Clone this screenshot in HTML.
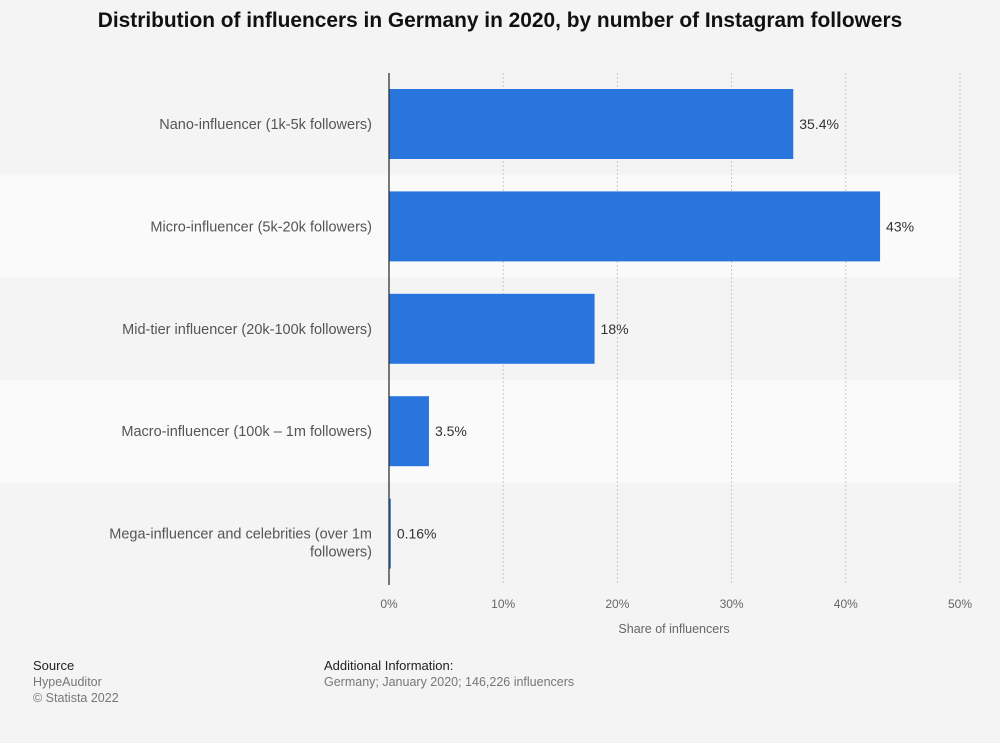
<!DOCTYPE html>
<html><head><meta charset="utf-8"><style>
body{margin:0;background:#f4f4f4;font-family:"Liberation Sans",Arial,sans-serif;}
#wrap{position:relative;width:1000px;height:743px;overflow:hidden;}
.title{position:absolute;left:0;top:9px;width:1000px;text-align:center;font-size:20.9px;font-weight:bold;color:#111;}
.foot{position:absolute;font-size:12.5px;color:#777;line-height:16px;}
.foot b{font-weight:normal;color:#222;font-size:13px;}
</style></head><body>
<div id="wrap">
<div class="title">Distribution of influencers in Germany in 2020, by number of Instagram followers</div>
<svg id="chart" width="1000" height="660" style="position:absolute;left:0;top:0"></svg>
<div class="foot" style="left:33px;top:658px"><b>Source</b><br>HypeAuditor<br>© Statista 2022</div>
<div class="foot" style="left:324px;top:658px"><b>Additional Information:</b><br>Germany; January 2020; 146,226 influencers</div>
</div>
<script>
const categories=["Nano-influencer (1k-5k followers)","Micro-influencer (5k-20k followers)","Mid-tier influencer (20k-100k followers)","Macro-influencer (100k – 1m followers)","Mega-influencer and celebrities (over 1m|followers)"];
const values=[35.4,43,18,3.5,0.16];
const valueLabels=["35.4%","43%","18%","3.5%","0.16%"];
const ticks=[0,10,20,30,40,50];
const tickLabels=["0%","10%","20%","30%","40%","50%"];
const svg=document.getElementById('chart');const NS='http://www.w3.org/2000/svg';
const x0=389,x1=960,top0=73,band=102.4,xMax=50;
const xs=v=>x0+(v/xMax)*(x1-x0);
const ys=i=>top0+i*band;
function mk(t,a){const e=document.createElementNS(NS,t);for(const k in a)e.setAttribute(k,a[k]);svg.appendChild(e);return e;}
categories.forEach((c,i)=>{
  const r=mk('rect',{x:0,y:ys(i),width:x1,height:band,fill:i%2?'#fafafa':'#f4f4f4'});
  
  
});
ticks.forEach((t,i)=>{
  if(i>0){const l=mk('line',{x1:xs(t),x2:xs(t),y1:top0,y2:ys(categories.length),stroke:'#c8c8c8','stroke-dasharray':'2,2'});
  
  }
  const tx=mk('text',{x:xs(t),y:608,'text-anchor':'middle','font-size':12,fill:'#666'});tx.textContent=tickLabels[i];
  
  
});
categories.forEach((c,i)=>{
  const b=mk('rect',{x:x0,y:ys(i)+16,width:xs(values[i])-x0,height:70,fill:'#2876dd'});
  
  
  const v=mk('text',{x:xs(values[i])+6,y:ys(i)+56,'font-size':14,fill:'#333'});v.textContent=valueLabels[i];
  
  
  const lines=c.split('|');
  lines.forEach((ln,j)=>{
    const t=mk('text',{x:372,y:ys(i)+56+j*18,'text-anchor':'end','font-size':14.5,fill:'#555'});t.textContent=ln;
    
    
  });
});
const ax=mk('line',{x1:x0,x2:x0,y1:top0,y2:ys(categories.length),stroke:'#333','stroke-width':1.3});


const at=mk('text',{x:674,y:633,'text-anchor':'middle','font-size':12.5,fill:'#666'});at.textContent='Share of influencers';


</script>
</body></html>
